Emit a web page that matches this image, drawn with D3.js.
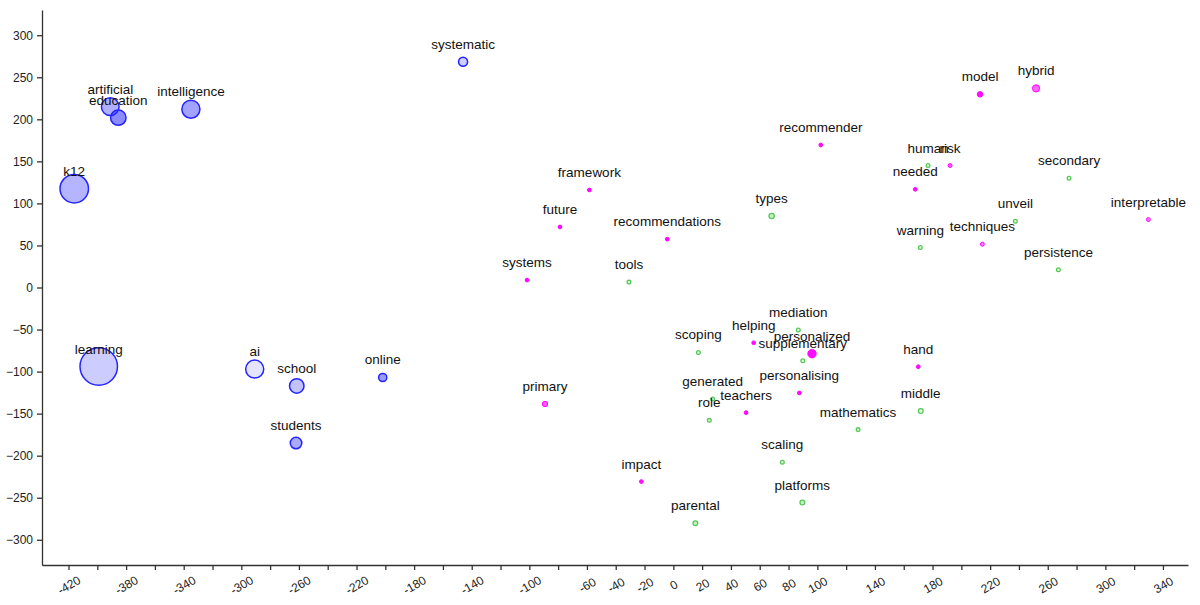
<!DOCTYPE html>
<html>
<head>
<meta charset="utf-8">
<script src="https://cdn.jsdelivr.net/npm/d3@7.9.0/dist/d3.min.js"></script>
<style>
    html, body { margin: 0; padding: 0; background: #fff; }
    svg { display: block; font-family: "Liberation Sans", Arial, sans-serif; }
    .axis path, .axis line { stroke: #333; stroke-width: 1.3; }
    .axis text { fill: #222; font-size: 12px; }
    .word { fill: #111; font-size: 13.5px; }
</style>
</head>
<body>
<div id="chart"></div>
<script>
// word map: position, frequency, cluster and shade
const words = [
    'learning', 'k12', 'artificial', 'education', 'intelligence', 'ai', 'school', 'students', 'online', 'systematic',
    'framework', 'future', 'recommendations', 'systems', 'recommender', 'model', 'hybrid', 'risk', 'needed',
    'interpretable', 'techniques', 'helping', 'personalized', 'personalising', 'primary', 'teachers', 'impact', 'hand',
    'tools', 'types', 'human', 'secondary', 'unveil', 'warning', 'persistence', 'mediation', 'scoping',
    'supplementary', 'generated', 'role', 'mathematics', 'scaling', 'platforms', 'parental', 'middle'
];
const xValues = [
    -399, -416, -391, -385.4, -335, -290.7, -261.5, -262, -201.8, -146,
    -58.3, -78.7, -4.2, -101.6, 102.4, 213, 251.9, 192.2, 168,
    329.9, 214.6, 55.8, 96.3, 87.5, -89.1, 50.5, -22.2, 170.1,
    -30.8, 68.3, 176.9, 274.8, 237.5, 171.5, 267.4, 86.8, 17.4,
    89.9, 27.3, 25, 128.3, 75.7, 89.6, 15.3, 171.8
];
const yValues = [
    -94, 117.5, 215, 202, 212, -97, -117, -185, -107, 268.4,
    116, 72, 57.5, 8.8, 169.5, 229.7, 236.8, 145, 116.8,
    80.8, 51.5, -65.7, -78.7, -125.4, -138.5, -148.8, -230.8, -94.2,
    6.4, 85, 145, 130, 78.8, 47.5, 21, -50.6, -77.2,
    -87, -132.6, -158, -169, -207.8, -255.7, -280.3, -146.8
];
const counts = [
    95, 56, 23, 18, 24, 24, 16, 10.6, 5.8, 7,
    1.4, 1.4, 1.4, 1.4, 1.4, 2.6, 4.2, 1.5, 1.4,
    1.5, 1.5, 1.4, 5.5, 1.4, 2.5, 1.4, 1.4, 1.4,
    1.6, 2.7, 1.6, 1.6, 1.6, 1.6, 1.6, 1.6, 1.6,
    1.6, 1.6, 1.6, 1.6, 1.6, 2.3, 2.3, 2.3
];
const clusters = [
    0, 0, 0, 0, 0, 0, 0, 0, 0, 0,
    1, 1, 1, 1, 1, 1, 1, 1, 1,
    1, 1, 1, 1, 1, 1, 1, 1, 1,
    2, 2, 2, 2, 2, 2, 2, 2, 2,
    2, 2, 2, 2, 2, 2, 2, 2
];
const shades = [
    0.23, 0.34, 0.36, 0.53, 0.42, 0.12, 0.28, 0.39, 0.45, 0.22,
    0.95, 0.95, 0.95, 0.95, 0.95, 0.95, 0.6, 0.6, 0.95,
    0.5, 0.5, 0.95, 0.95, 0.95, 0.65, 0.95, 0.9, 0.95,
    0.12, 0.3, 0.12, 0.12, 0.12, 0.12, 0.12, 0.12, 0.12,
    0.12, 0.12, 0.12, 0.12, 0.12, 0.3, 0.3, 0.15
];
const clusterColors = ['#2424ff', '#ff00ff', '#52c952'];
const clusterStroke = [1.5, 1, 1.3];

const xTicks = d3.range(-420, 341, 20);
const xTickLabels = [-420, -380, -340, -300, -260, -220, -180, -140, -100, -60,
    -40, -20, 0, 20, 40, 60, 80, 100, 140, 180, 220, 260, 300, 340];
const yTicks = d3.range(-300, 301, 50);

const points = words.map((w, i) => ({
    word: w,
    x: xValues[i],
    y: yValues[i],
    count: counts[i],
    cluster: clusters[i],
    shade: shades[i]
}));

function renderWordMap(points) {
    const width = 1200;
    const height = 605;
    const margin = { top: 10, right: 12, bottom: 40, left: 42 };

    const svg = d3.select('#chart')
        .append('svg')
        .attr('width', width)
        .attr('height', height);

    const xScale = d3.scaleLinear()
        .domain([-438.4, 357.4])
        .range([margin.left, width - margin.right]);

    const yScale = d3.scaleLinear()
        .domain([-330, 330])
        .range([height - margin.bottom, margin.top]);

    const rScale = d3.scaleSqrt().domain([0, 100]).range([0, 20]);

    // Axes
    svg.append('g')
        .attr('class', 'axis')
        .attr('transform', `translate(0, ${height - margin.bottom})`)
        .call(d3.axisBottom(xScale)
            .tickValues(xTicks)
            .tickSize(5)
            .tickSizeOuter(0)
            .tickFormat(d => xTickLabels.includes(d) ? d : ''))
        .call(g => g.selectAll('text')
            .attr('text-anchor', 'middle')
            .attr('y', 0)
            .attr('dy', '0.35em')
            .attr('transform', 'translate(0, 20) rotate(-30)'));

    svg.append('g')
        .attr('class', 'axis')
        .attr('transform', `translate(${margin.left}, 0)`)
        .call(d3.axisLeft(yScale)
            .tickValues(yTicks)
            .tickSize(5)
            .tickPadding(4)
            .tickSizeOuter(0));

    // Words
    const nodes = svg.append('g')
        .selectAll('g')
        .data(points)
        .join('g')
        .attr('transform', d => `translate(${xScale(d.x)}, ${yScale(d.y)})`);

    nodes.append('circle')
        .attr('r', d => Math.max(rScale(d.count) - clusterStroke[d.cluster] / 2, 0.8))
        .attr('fill', d => clusterColors[d.cluster])
        .attr('fill-opacity', d => d.shade)
        .attr('stroke', d => clusterColors[d.cluster])
        .attr('stroke-width', d => clusterStroke[d.cluster]);

    nodes.append('text')
        .attr('class', 'word')
        .attr('text-anchor', 'middle')
        .attr('y', -13)
        .text(d => d.word);
}

renderWordMap(points);
</script>
</body>
</html>
